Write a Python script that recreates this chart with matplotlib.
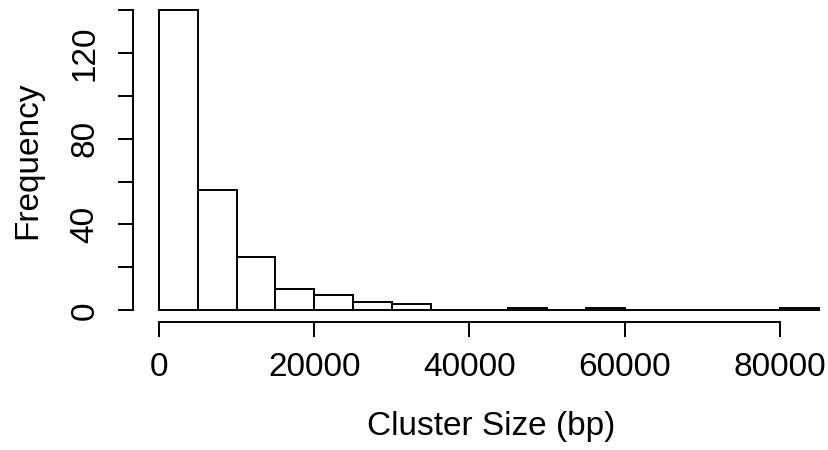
import matplotlib
matplotlib.use("Agg")
import matplotlib.pyplot as plt
import numpy as np

bin_edges = [0, 5000, 10000, 15000, 20000, 25000, 30000, 35000, 40000, 45000,
             50000, 55000, 60000, 65000, 70000, 75000, 80000, 85000]
counts = [140, 56, 25, 10, 7, 4, 3, 0, 0, 1, 0, 1, 0, 0, 0, 0, 1]
x_ticks = [0, 20000, 40000, 60000, 80000]
y_ticks = [0, 20, 40, 60, 80, 100, 120, 140]
y_tick_labels = ['0', '', '40', '', '80', '', '120', '']

plt.rcParams['font.family'] = ['Liberation Sans', 'DejaVu Sans']

W, H = 829, 450
fig = plt.figure(figsize=(W / 100, H / 100), dpi=100)
left_px, right_px = 132.6, 829
top_px, bot_px = -2, 322.3
ax = fig.add_axes([left_px / W, 1 - bot_px / H, (right_px - left_px) / W, (bot_px - top_px) / H])

edges = np.array(bin_edges)
ax.bar(edges[:-1], counts, width=np.diff(edges), align='edge', facecolor='white',
       edgecolor='black', linewidth=1.4)

xmin = -0.04 * 85000
px_per_unit = (819 - 159.3) / 85000
ax.set_xlim(xmin, xmin + (right_px - left_px) / px_per_unit)
ax.set_ylim(-0.04 * 140, 140 + 0.04 * 140)

for s in ['top', 'right']:
    ax.spines[s].set_visible(False)
ax.spines['left'].set_bounds(0, 140)
ax.spines['bottom'].set_bounds(0, 80000)
for s in ['left', 'bottom']:
    ax.spines[s].set_linewidth(1.4)

ax.set_xticks(x_ticks)
ax.set_xticklabels([str(v) for v in x_ticks])
ax.set_yticks(y_ticks)
ax.set_yticklabels(y_tick_labels, rotation=90, va='center')
ax.tick_params(axis='x', length=10.6, width=1.4, labelsize=24, pad=11)
ax.tick_params(axis='y', length=10.6, width=1.4, labelsize=24, pad=12.5)

fig.text(491 / W, 1 - 434.5 / H, 'Cluster Size (bp)', ha='center', va='baseline',
         fontsize=24)
fig.text(36 / W, 1 - 160 / H, 'Frequency', ha='center', va='baseline', rotation=90,
         rotation_mode='anchor', fontsize=24)

fig.savefig('out.png', dpi=100)
